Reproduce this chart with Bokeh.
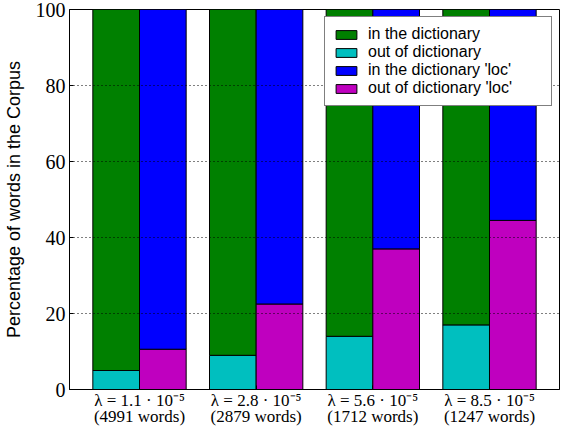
from bokeh.plotting import figure
from bokeh.models import ColumnDataSource, FixedTicker, Range1d, Legend, LegendItem
from bokeh.embed import file_html
from bokeh.resources import INLINE

# ---- data ----
lambda_labels = ["λ = 1.1 · 10⁻⁵", "λ = 2.8 · 10⁻⁵", "λ = 5.6 · 10⁻⁵", "λ = 8.5 · 10⁻⁵"]
word_counts = ["(4991 words)", "(2879 words)", "(1712 words)", "(1247 words)"]
out_dict = [5.0, 9.0, 14.0, 17.0]
in_dict = [95.0, 91.0, 86.0, 83.0]
out_loc = [10.6, 22.5, 37.0, 44.5]
in_loc = [89.4, 77.5, 63.0, 55.5]
series_names = ["in the dictionary", "out of dictionary",
                "in the dictionary 'loc'", "out of dictionary 'loc'"]

GREEN, CYAN, BLUE, MAGENTA = "#008000", "#00bfbf", "#0000ff", "#bf00bf"
bar_w = 0.4

idx = list(range(len(out_dict)))
src = ColumnDataSource(dict(
    xl=[i + bar_w / 2 for i in idx],
    xr=[i + 1.5 * bar_w for i in idx],
    out_dict=out_dict, in_dict=in_dict, out_loc=out_loc, in_loc=in_loc,
))

p = figure(width=555, height=418, frame_width=490, frame_height=380,
           output_backend="svg", toolbar_location=None,
           x_range=Range1d(-0.2, 4.0), y_range=Range1d(0, 100),
           min_border_left=63, min_border_right=2, min_border_top=9,
           min_border_bottom=29)
p.background_fill_color = "white"
p.outline_line_color = "black"
p.outline_line_width = 1

left = p.vbar_stack(["out_dict", "in_dict"], x="xl", width=bar_w, source=src,
                    fill_color=[CYAN, GREEN], line_color="black", line_width=1)
right = p.vbar_stack(["out_loc", "in_loc"], x="xr", width=bar_w, source=src,
                     fill_color=[MAGENTA, BLUE], line_color="black", line_width=1)

# grid
p.xgrid.visible = False
p.ygrid.ticker = FixedTicker(ticks=[20, 40, 60, 80])
p.ygrid.grid_line_color = "black"
p.ygrid.grid_line_dash = "1 3"
p.ygrid.grid_line_width = 1
p.ygrid.level = "guide"

# y axis
p.yaxis.ticker = FixedTicker(ticks=[0, 20, 40, 60, 80, 100])
p.yaxis.minor_tick_line_color = None
p.yaxis.major_tick_in = 4
p.yaxis.major_tick_out = 0
p.yaxis.major_label_text_font = "Liberation Serif"
p.yaxis.major_label_text_font_size = "20px"
p.yaxis.major_label_text_color = "black"
p.yaxis.major_label_standoff = 4
p.yaxis.axis_label = "Percentage of words in the Corpus"
p.yaxis.axis_label_text_font = "Liberation Sans"
p.yaxis.axis_label_text_font_style = "normal"
p.yaxis.axis_label_text_font_size = "18px"
p.yaxis.axis_label_text_color = "black"
p.yaxis.axis_label_standoff = 9
p.yaxis.axis_line_color = "black"

# x axis
centers = [i + bar_w for i in idx]
p.xaxis.ticker = FixedTicker(ticks=centers)
p.xaxis.major_label_overrides = {c: f"{a}\n{w}" for c, a, w in zip(centers, lambda_labels, word_counts)}
p.xaxis.major_label_text_font = "Liberation Serif"
p.xaxis.major_label_text_font_style = "normal"
p.xaxis.major_label_text_font_size = "17px"
p.xaxis.major_label_text_color = "black"
p.xaxis.major_label_standoff = 1
p.xaxis.major_label_text_line_height = 0.85
p.xaxis.major_tick_in = 4
p.xaxis.major_tick_out = 0
p.xaxis.minor_tick_line_color = None
p.xaxis.axis_line_color = "black"

# legend
legend = Legend(items=[
    LegendItem(label=series_names[0], renderers=[left[1]]),
    LegendItem(label=series_names[1], renderers=[left[0]]),
    LegendItem(label=series_names[2], renderers=[right[1]]),
    LegendItem(label=series_names[3], renderers=[right[0]]),
], location="top_right")
legend.margin = 7
legend.padding = 8
legend.spacing = 0
legend.label_height = 18
legend.glyph_height = 11
legend.glyph_width = 26
legend.label_standoff = 9
legend.label_width = 175
legend.label_text_font = "Liberation Sans"
legend.label_text_font_size = "16px"
legend.label_text_color = "black"
legend.border_line_color = "black"
legend.border_line_width = 1
legend.background_fill_color = "white"
legend.background_fill_alpha = 1.0
p.add_layout(legend)

open("out.html", "w").write(file_html(p, INLINE))
